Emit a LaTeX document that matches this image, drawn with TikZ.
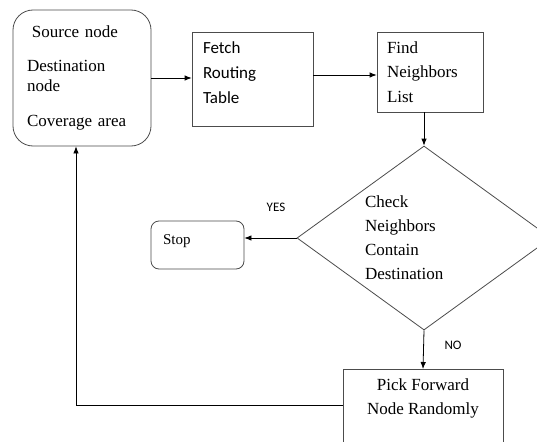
\documentclass[tikz,border=0pt]{standalone}
\usepackage{fontspec}
\setmainfont{Liberation Serif}
\newfontfamily\calibrifont{Carlito}
\usetikzlibrary{shapes.geometric,arrows.meta}
\tikzset{
    box/.style={draw=black!70, line width=0.8pt, font=\fontsize{17}{24.5}\selectfont, align=left, inner sep=0pt},
    flow/.style={-{Latex[length=7pt,width=5.5pt]}, line width=0.8pt},
    tag/.style={font=\calibrifont\fontsize{13}{15}\selectfont}
}
\begin{document}
\begin{tikzpicture}[x=1pt, y=-1pt]
        \clip (0,0) rectangle (537,441);
        \fill[white] (0,0) rectangle (537,441);

        \node[box, rounded corners=20pt, minimum width=138pt, minimum height=136pt, text width=110pt,
              font=\fontsize{17}{20}\selectfont] (src) at (82,78)
              {\hspace*{5pt}Source node\\[14pt] Destination\\ node\\[15pt] Coverage area};
        \node[box, minimum width=121pt, minimum height=94pt, text width=99pt, text depth=62pt,
              font=\calibrifont\fontsize{17}{25}\selectfont] (fetch) at (252.5,79) {Fetch\\ Routing\\ Table};
        \node[box, minimum width=106pt, minimum height=80pt, text width=86pt] (find) at (430,72) {Find\\ Neighbors\\ List};
        \node[box, diamond, aspect=1.38, minimum width=254pt, minimum height=184pt, text width=118pt,
              font=\fontsize{17}{24}\selectfont] (check) at (424,238) {Check\\ Neighbors\\ Contain\\ Destination};
        \node[box, rounded corners=8pt, minimum width=93pt, minimum height=48pt, text width=69pt, text depth=10pt,
              font=\fontsize{15}{18}\selectfont] (stop) at (197.5,245) {Stop};
        \node[box, anchor=north, align=center, minimum width=160pt, inner ysep=9pt, text depth=60pt,
              font=\fontsize{17}{24}\selectfont] (pick) at (423,369) {Pick Forward\\ Node Randomly};

        \node[tag] (yes) at (276,207) {YES};
        \node[tag] (no) at (453,345) {NO};
        \coordinate (back) at (76,405);

        \draw[flow] (src.east) -- (src.east -| fetch.west);
        \draw[flow] (fetch.east |- 0,75) -- (find.west |- 0,75);
        \draw[flow] (check.north |- find.south) -- (check.north);
        \draw[flow] (check.west) -- (check.west -| stop.east);
        \draw[flow] (check.south) -- (pick.north);
        \draw[flow] (pick.west |- back) -- (back) -- (back |- src.south);
    \end{tikzpicture}
\end{document}
